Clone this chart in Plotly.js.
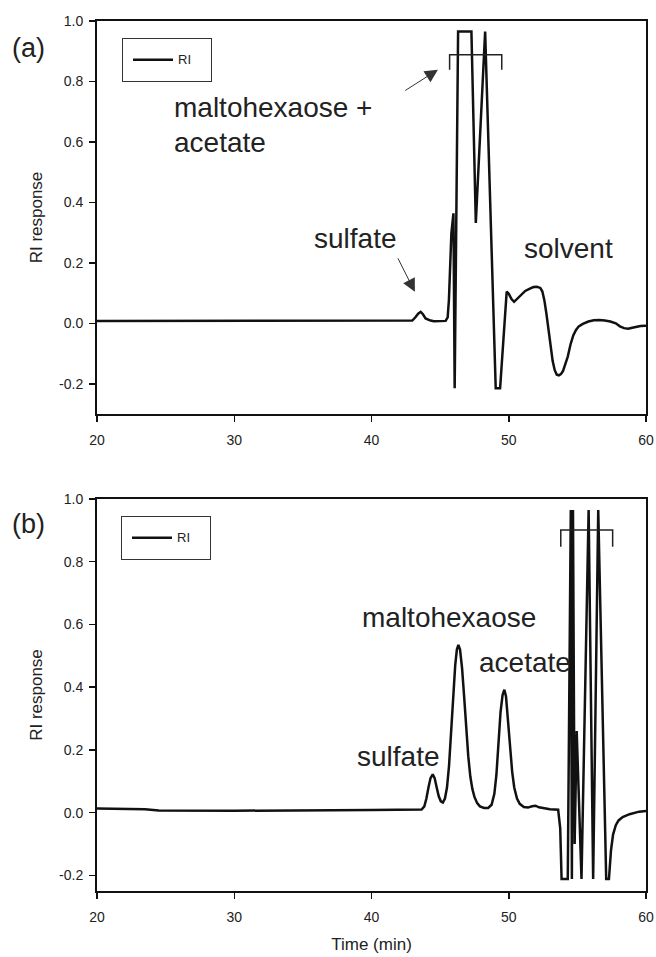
<!DOCTYPE html>
<html>
<head>
<meta charset="utf-8">
<script src="https://cdn.plot.ly/plotly-3.0.1.min.js"></script>
<style>
  html, body { margin: 0; padding: 0; background: #fff; }
  #chart { width: 656px; height: 957px; }
</style>
</head>
<body>
<div id="chart"></div>
<script>
// ---------- Data ----------
// Panel (a): RI response vs time (min)
const timeA = [20, 30, 40, 42.97, 43.2, 43.4, 43.58, 43.75, 43.94, 44.3, 44.55, 45.0, 45.4,
  45.55, 45.64, 45.82, 45.97, 46.06, 46.31, 47.28, 47.6, 48.28, 49.05, 49.37,
  49.85, 50.0, 50.2, 50.39, 50.6, 50.9, 51.2, 51.5, 51.8, 52.05, 52.3, 52.45, 52.6,
  52.75, 52.9, 53.05, 53.2, 53.35, 53.5, 53.65, 53.8, 53.95, 54.1, 54.3, 54.5, 54.7,
  54.9, 55.1, 55.4, 55.8, 56.2, 56.6, 57.0, 57.4, 57.8, 58.1, 58.4, 58.7, 59.0, 59.3,
  59.6, 60];
const riA = [0.008, 0.008, 0.008, 0.009, 0.02, 0.032, 0.038, 0.03, 0.016, 0.009, 0.007, 0.007, 0.008,
  0.02, 0.077, 0.298, 0.364, -0.215, 0.965, 0.965, 0.332, 0.965, -0.215, -0.215,
  0.105, 0.098, 0.08, 0.071, 0.08, 0.096, 0.107, 0.114, 0.12, 0.121, 0.117, 0.105, 0.075,
  0.03, -0.025, -0.08, -0.125, -0.155, -0.17, -0.172, -0.168, -0.158, -0.14, -0.11, -0.07, -0.04,
  -0.022, -0.01, -0.002, 0.006, 0.01, 0.011, 0.009, 0.006, 0.0, -0.01, -0.016, -0.018, -0.015, -0.011,
  -0.009, -0.008];

// Panel (b): RI response vs time (min)
const timeB = [20, 22, 23.5, 24.5, 30, 40, 43.65, 43.85, 44.0, 44.15, 44.3, 44.46, 44.6, 44.75, 44.9,
  45.05, 45.2, 45.35, 45.5, 45.65, 45.8, 45.95, 46.1, 46.22, 46.33, 46.45, 46.6, 46.75, 46.9,
  47.05, 47.2, 47.35, 47.5, 47.7, 47.9, 48.2, 48.5, 48.75, 48.95, 49.1, 49.25, 49.4, 49.55,
  49.68, 49.8, 49.95, 50.1, 50.25, 50.4, 50.6, 50.8, 51.1, 51.4, 51.7, 51.95, 52.2, 52.6,
  53.0, 53.6, 53.75, 53.85, 54.3, 54.52, 54.6, 54.68, 54.8, 54.95, 55.3, 55.82, 56.15,
  56.52, 57.1, 57.3, 57.45, 57.6, 57.8, 58.0, 58.3, 58.8, 59.5, 60];
const riB = [0.013, 0.013, 0.011, 0.007, 0.006, 0.008, 0.01, 0.02, 0.045, 0.08, 0.11, 0.122, 0.11, 0.08, 0.052,
  0.036, 0.032, 0.045, 0.08, 0.15, 0.26, 0.38, 0.47, 0.52, 0.535, 0.52, 0.46, 0.37, 0.27,
  0.18, 0.115, 0.075, 0.05, 0.03, 0.02, 0.015, 0.015, 0.025, 0.06, 0.12, 0.22, 0.32, 0.375,
  0.392, 0.37, 0.3, 0.21, 0.13, 0.08, 0.045, 0.028, 0.018, 0.016, 0.02, 0.022, 0.017, 0.013,
  0.011, 0.009, -0.05, -0.212, -0.212, 0.965, -0.212, 0.965, -0.1, 0.26, -0.212, 0.965, -0.212,
  0.965, -0.212, -0.212, -0.12, -0.07, -0.04, -0.025, -0.014, -0.005, 0.003, 0.005];

// Tick labels
const xTicks = [20, 30, 40, 50, 60];
const yTickVals = [-0.2, 0, 0.2, 0.4, 0.6, 0.8, 1.0];
const yTickText = ["-0.2", "0.0", "0.2", "0.4", "0.6", "0.8", "1.0"];
const seriesName = "RI";

// ---------- Styling ----------
const FONT = "Liberation Sans, Arial, sans-serif";
const TXT = "#222";
const tickFont = {family: FONT, size: 14, color: TXT};

function xAxis(anchor, withTitle) {
  const a = {
    domain: [0, 1], anchor: anchor, range: [20, 60],
    tickmode: "array", tickvals: xTicks, ticktext: xTicks.map(String),
    ticks: "outside", ticklen: 6, tickwidth: 1.5, tickcolor: "#111",
    showline: true, linecolor: "#111", linewidth: 2, mirror: true,
    showgrid: false, zeroline: false, tickfont: tickFont, ticklabelstandoff: 6,
    fixedrange: true
  };
  if (withTitle) a.title = {text: "Time (min)", font: {family: FONT, size: 17, color: TXT}, standoff: 14};
  return a;
}
function yAxis(anchor, domain, range) {
  return {
    domain: domain, anchor: anchor, range: range,
    tickmode: "array", tickvals: yTickVals, ticktext: yTickText,
    ticks: "outside", ticklen: 6, tickwidth: 1.5, tickcolor: "#111",
    showline: true, linecolor: "#111", linewidth: 2, mirror: true,
    showgrid: false, zeroline: false, tickfont: tickFont, ticklabelstandoff: 3,
    title: {text: "RI response", font: {family: FONT, size: 17, color: TXT}, standoff: 12},
    fixedrange: true
  };
}

// legend label: small text inside a taller legend row, padded on the right
const legendLabel = "<span style='font-size:13px;baseline-shift:4px'>" + seriesName +
  "&nbsp;&nbsp;&nbsp;&nbsp;</span>";

const traces = [
  {x: timeA, y: riA, xaxis: "x", yaxis: "y", type: "scatter", mode: "lines",
   name: legendLabel, line: {color: "#111", width: 2.5}, legend: "legend"},
  {x: timeB, y: riB, xaxis: "x2", yaxis: "y2", type: "scatter", mode: "lines",
   name: legendLabel, line: {color: "#111", width: 2.5}, legend: "legend2"}
];

const big = {family: FONT, size: 28, color: TXT};
function lbl(text, x, y, xr, yr, xanchor) {
  return {text: text, x: x, y: y, xref: xr, yref: yr, showarrow: false, font: big,
          xanchor: xanchor || "center", yanchor: "middle"};
}

const annotations = [
  // panel (a)
  lbl("maltohexaose +", 25.45, 0.715, "x", "y", "left"),
  lbl("acetate", 25.45, 0.599, "x", "y", "left"),
  lbl("sulfate", 38.83, 0.281, "x", "y"),
  lbl("solvent", 54.38, 0.248, "x", "y"),
  {x: 44.84, y: 0.839, ax: 42.35, ay: 0.767, xref: "x", yref: "y", axref: "x", ayref: "y",
   text: "", showarrow: true, arrowhead: 2, arrowsize: 2.6, arrowwidth: 1, arrowcolor: "#333"},
  {x: 43.16, y: 0.104, ax: 41.87, ay: 0.22, xref: "x", yref: "y", axref: "x", ayref: "y",
   text: "", showarrow: true, arrowhead: 2, arrowsize: 2.6, arrowwidth: 1, arrowcolor: "#333"},
  // panel (b)
  lbl("maltohexaose", 45.68, 0.623, "x2", "y2"),
  lbl("acetate", 47.69, 0.48, "x2", "y2", "left"),
  lbl("sulfate", 45.11, 0.178, "x2", "y2", "right"),
  lbl("solvent", 55.99, 1.10, "x2", "y2"),
  // panel letters (pixel positions converted below)
  {text: "(a)", x: 28, y: 48, xref: "paper", yref: "paper", showarrow: false},
  {text: "(b)", x: 28, y: 524, xref: "paper", yref: "paper", showarrow: false}
];

const W = 656, H = 957, ML = 97, MR = 10, MT = 21, MB = 66;
const PW = W - ML - MR, PH = H - MT - MB;
annotations.forEach(a => {
  if (a.text === "(a)" || a.text === "(b)") {
    a.x = (a.x - ML) / PW;
    a.y = (H - MB - a.y) / PH;
    a.xanchor = "center"; a.yanchor = "middle";
    a.font = {family: FONT, size: 27, color: TXT};
  }
});

const shapes = [
  {type: "path", xref: "x", yref: "y", path: "M45.69,0.839 L45.69,0.888 L49.49,0.888 L49.49,0.839",
   line: {color: "#222", width: 1.5}},
  {type: "path", xref: "x2", yref: "y2", path: "M53.79,0.848 L53.79,0.901 L57.57,0.901 L57.57,0.848",
   line: {color: "#222", width: 1.5}}
];

const legendStyle = {
  bgcolor: "#fff", bordercolor: "#333", borderwidth: 1,
  font: {family: FONT, size: 22, color: TXT},
  xanchor: "left", yanchor: "top", itemwidth: 40, valign: "middle", indentation: 5
};

const layout = {
  width: W, height: H,
  margin: {l: ML, r: MR, t: MT, b: MB},
  paper_bgcolor: "#fff", plot_bgcolor: "#fff",
  showlegend: true,
  xaxis: xAxis("y", false),
  yaxis: yAxis("x", [(H - MB - 414) / PH, 1], [-0.3, 1.0]),
  xaxis2: xAxis("y2", true),
  yaxis2: yAxis("x2", [0, (H - MB - 499) / PH], [-0.25, 1.0]),
  legend: Object.assign({x: (122 - ML) / PW, y: (H - MB - 38) / PH}, legendStyle),
  legend2: Object.assign({x: (121 - ML) / PW, y: (H - MB - 516) / PH}, legendStyle),
  annotations: annotations,
  shapes: shapes
};

Plotly.newPlot("chart", traces, layout, {displayModeBar: false, staticPlot: true});
</script>
</body>
</html>
